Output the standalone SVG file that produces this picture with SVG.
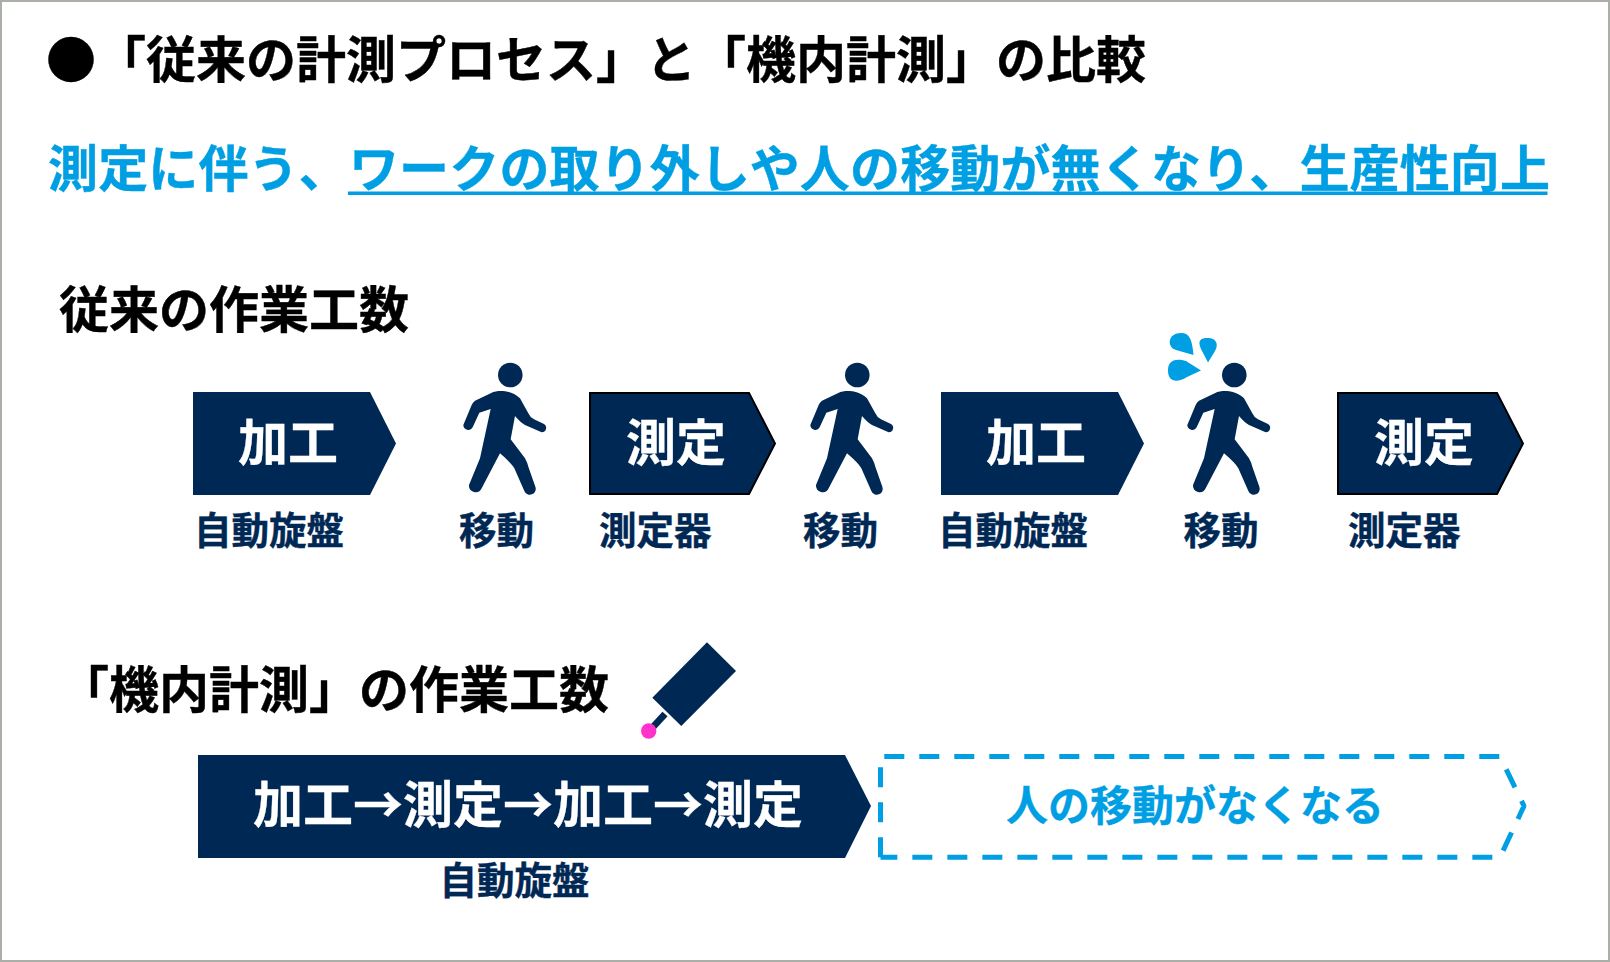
<svg xmlns="http://www.w3.org/2000/svg" xmlns:xlink="http://www.w3.org/1999/xlink" width="1610" height="962" viewBox="0 0 1610 962">
<style>
text{font-family:"Noto Sans CJK JP","Noto Sans CJK SC",sans-serif;font-weight:700}
.h{font-size:50px;fill:#000;stroke:#000;stroke-width:.4}
.b{font-size:50px;fill:#009fe3;stroke:#009fe3;stroke-width:.4}
.w{font-size:50px;fill:#fff;stroke:#fff;stroke-width:.3}
.l{font-size:37.500px;fill:#002855;stroke:#002855;stroke-width:.4}
.p{fill:#002855}
.k{fill:#002855;stroke:#000;stroke-width:2}
.d{fill:#009fe3}
</style>
<defs>
<g id="walker" class="p">
<circle cx="80.3" cy="55" r="12.3"/>
<path transform="scale(.33333)" d="M205,213 C225,212 250,215 270,235 L295,280 Q300,292 312,298 L342,312 A13.500,13.500 0 0 1 335,337 L285,315 Q272,308 255,288 L242,358 L285,415 Q292,428 295,440 L316,500 A17.500,17.500 0 0 1 283,513 L253,445 Q245,430 210,400 L155,505 A20,20 0 0 1 117,495 L150,415 L182,267 L148,278 L128,322 A15,15 0 0 1 100,315 L125,255 Q128,247 135,242 L190,216 Z"/>
</g>
</defs>
<rect x="1" y="1" width="1608" height="960" fill="#fff" stroke="#aab0a8" stroke-width="2"/>
<g id="title"><text class="h" x="46" y="78">●「従来の計測プロセス」と「機内計測」の比較</text></g>
<g id="subtitle"><text class="b" x="48" y="187" textLength="1502" lengthAdjust="spacing">測定に伴う、ワークの取り外しや人の移動が無くなり、生産性向上</text><rect x="348" y="191.500" width="1199.500" height="3.500" fill="#009fe3"/></g>
<g id="heading-conventional"><text class="h" x="59" y="328">従来の作業工数</text></g>
<g id="step-1"><path class="p" d="M193,392H370L396,443.500L370,495H193Z"/><text class="w" x="238" y="461">加工</text><text class="l" x="194" y="544">自動旋盤</text></g>
<g id="move-1"><use xlink:href="#walker" transform="translate(430,320)"/><text class="l" x="459" y="544">移動</text></g>
<g id="step-2"><path class="k" d="M590,393H749L775,443.500L749,494H590Z"/><text class="w" x="626" y="461">測定</text><text class="l" x="599" y="544">測定器</text></g>
<g id="move-2"><use xlink:href="#walker" transform="translate(777,320)"/><text class="l" x="803" y="544">移動</text></g>
<g id="step-3"><path class="p" d="M941,392H1118L1144,443.500L1118,495H941Z"/><text class="w" x="986" y="461">加工</text><text class="l" x="938" y="544">自動旋盤</text></g>
<g id="move-3"><use xlink:href="#walker" transform="translate(1154,320)"/><text class="l" x="1183.500" y="544">移動</text>
<g class="d"><path d="M1193.500,355 L1176,350 C1166,347 1168,333 1181,333 C1190,333 1192,340 1193.500,355Z"/><path d="M1208,362.500 L1201,349 C1197,340 1201,338 1208,338 C1216,338 1219,344 1215,351Z"/><path d="M1201,370.500 L1187,377 C1176,384 1168,381 1168,370.500 C1168,360 1176,358 1186,361 Z"/></g></g>
<g id="step-4"><path class="k" d="M1338,393H1497L1523,443.500L1497,494H1338Z"/><text class="w" x="1374" y="461">測定</text><text class="l" x="1348" y="544">測定器</text></g>
<g id="heading-onmachine"><text class="h" x="59" y="708">「機内計測」の作業工数</text></g>
<g id="probe"><path d="M653,727 L665,714" stroke="#002855" stroke-width="7" fill="none"/><path class="p" d="M707,642.300L736,671L681.300,726L652.300,697.700Z"/><circle cx="648.700" cy="731" r="7.700" fill="#ff33cc"/></g>
<g id="combined"><path class="p" d="M198,755H845L871,806L845,858H198Z"/><text class="w" x="253" y="823">加工→測定→加工→測定</text><text class="l" x="439.500" y="894">自動旋盤</text></g>
<g id="removed-move"><path d="M884.300,756.500H1500L1524,806L1500,857.300H880.500M880.500,857.300V757" fill="none" stroke="#009fe3" stroke-width="5" stroke-dasharray="20 15" stroke-linejoin="bevel"/><text x="1006" y="821" font-size="42" fill="#009fe3" stroke="#009fe3" stroke-width=".3">人の移動がなくなる</text></g>
<g id="connectors"/>
</svg>
